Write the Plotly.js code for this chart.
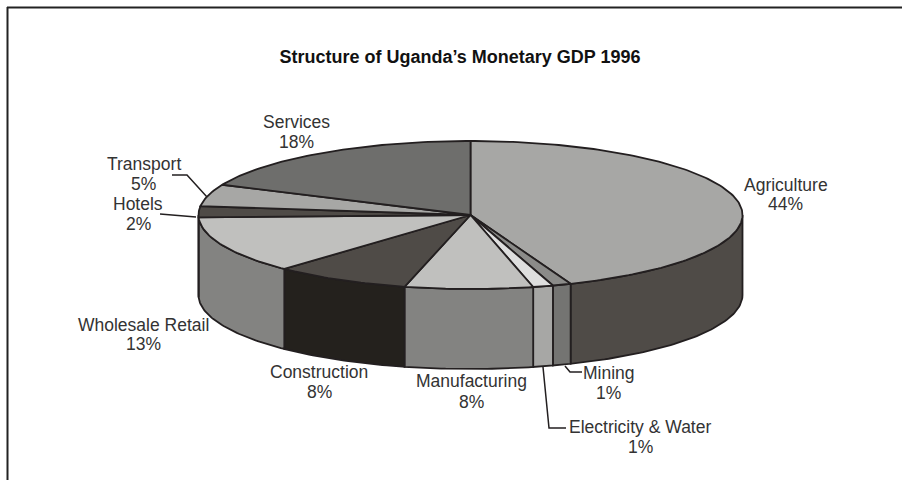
<!DOCTYPE html>
<html><head><meta charset="utf-8">
<script src="https://cdn.plot.ly/plotly-3.0.1.min.js"></script>
<style>html,body{margin:0;padding:0;background:#fff}#c{width:902px;height:480px}</style>
</head><body><div id="c"></div>
<script>
const categories = ["Agriculture","Mining","Electricity & Water","Manufacturing","Construction","Wholesale Retail","Hotels","Transport","Services"];
const shares = [44, 1.1, 1.2, 7.6, 8.1, 12.5, 2.4, 4.8, 18.3];
const topColors = ["#a7a7a5","#8b8b89","#dedede","#c0c0be","#4f4b47","#c0c0be","#4f4b47","#a7a7a5","#6e6e6c"];
const wallColors = ["#4f4b47","#747472","#a7a7a5","#838381","#24211d","#838381","#838381","#a7a7a5","#6e6e6c"];
const labelX = [785.5, 608.5, 640, 471, 319, 143.5, 138, 143.5, 296];
const nameY = [185, 373, 427, 381, 372, 325, 204, 164, 122];
const pctY = [204, 393, 447, 402, 392, 344, 224, 184, 142];
const leaders = [
  {x:[565,570,582], y:[366,372,372]},
  {x:[543,549,566], y:[367,428,428]},
  {x:[172,187,207], y:[175,175,197]},
  {x:[160,196], y:[214,217]}
];

const cx = 470.5, cy = 215, rx = 272, ry = 74, depth = 80, edge = "#231f20";
const px = t => cx + rx*Math.sin(t*Math.PI/180);
const py = (t,d=0) => cy - ry*Math.cos(t*Math.PI/180) + d;
function arc(a,b,d){ const xs=[],ys=[]; const n=Math.max(2,Math.ceil(Math.abs(b-a)));
  for(let i=0;i<=n;i++){const t=a+(b-a)*i/n; xs.push(px(t)); ys.push(py(t,d));} return [xs,ys]; }

const total = shares.reduce((s,v)=>s+v,0);
let acc = 0;
const walls=[], tops=[];
categories.forEach((name,i)=>{
  const a = acc/total*360; acc += shares[i]; const b = acc/total*360;
  const wa = Math.max(a,90), wb = Math.min(b,270);
  if(wb>wa){
    const [x1,y1]=arc(wa,wb,0), [x2,y2]=arc(wb,wa,depth);
    walls.push({type:"scatter",mode:"lines",x:x1.concat(x2,[x1[0]]),y:y1.concat(y2,[y1[0]]),fill:"toself",
      fillcolor:wallColors[i],line:{color:edge,width:1.8},hoverinfo:"skip",showlegend:false,name:name+" side"});
  }
  const [xs,ys]=arc(a,b,0);
  tops.push({type:"scatter",mode:"lines",x:[cx].concat(xs,[cx]),y:[cy].concat(ys,[cy]),fill:"toself",
    fillcolor:topColors[i],line:{color:edge,width:1.8},hoverinfo:"text",text:name,showlegend:false,name:name});
});
const leaderTraces = leaders.map(l=>({type:"scatter",mode:"lines",x:l.x,y:l.y,line:{color:edge,width:1.5},hoverinfo:"skip",showlegend:false}));

const labelFont = {family:"Liberation Sans, Arial, sans-serif",size:17.5,color:"#333"};
const annotations = [];
categories.forEach((name,i)=>{
  annotations.push({x:labelX[i],y:nameY[i],xref:"x",yref:"y",text:name,showarrow:false,xanchor:"center",yanchor:"middle",font:labelFont});
  annotations.push({x:labelX[i],y:pctY[i],xref:"x",yref:"y",text:Math.round(shares[i])+"%",showarrow:false,xanchor:"center",yanchor:"middle",font:labelFont});
});

const layout = {
  width:902,height:480,margin:{l:0,r:0,t:0,b:0},paper_bgcolor:"#fff",plot_bgcolor:"#fff",showlegend:false,
  title:{text:"<b>Structure of Uganda’s Monetary GDP 1996</b>",font:{family:"Liberation Sans, Arial, sans-serif",size:18,color:"#111"},
    x:460/902,xref:"paper",xanchor:"center",y:1-57/480,yref:"paper",yanchor:"middle"},
  xaxis:{range:[0,902],visible:false,fixedrange:true},
  yaxis:{range:[480,0],visible:false,fixedrange:true},
  annotations,
  shapes:[
    {type:"line",xref:"x",yref:"y",x0:7.5,x1:7.5,y0:7,y1:480,line:{color:"#222",width:2}},
    {type:"line",xref:"x",yref:"y",x0:7,x1:902,y0:7.5,y1:7.5,line:{color:"#222",width:2}}
  ]
};
Plotly.newPlot("c",walls.concat(tops,leaderTraces),layout,{displayModeBar:false,staticPlot:true});
</script></body></html>
